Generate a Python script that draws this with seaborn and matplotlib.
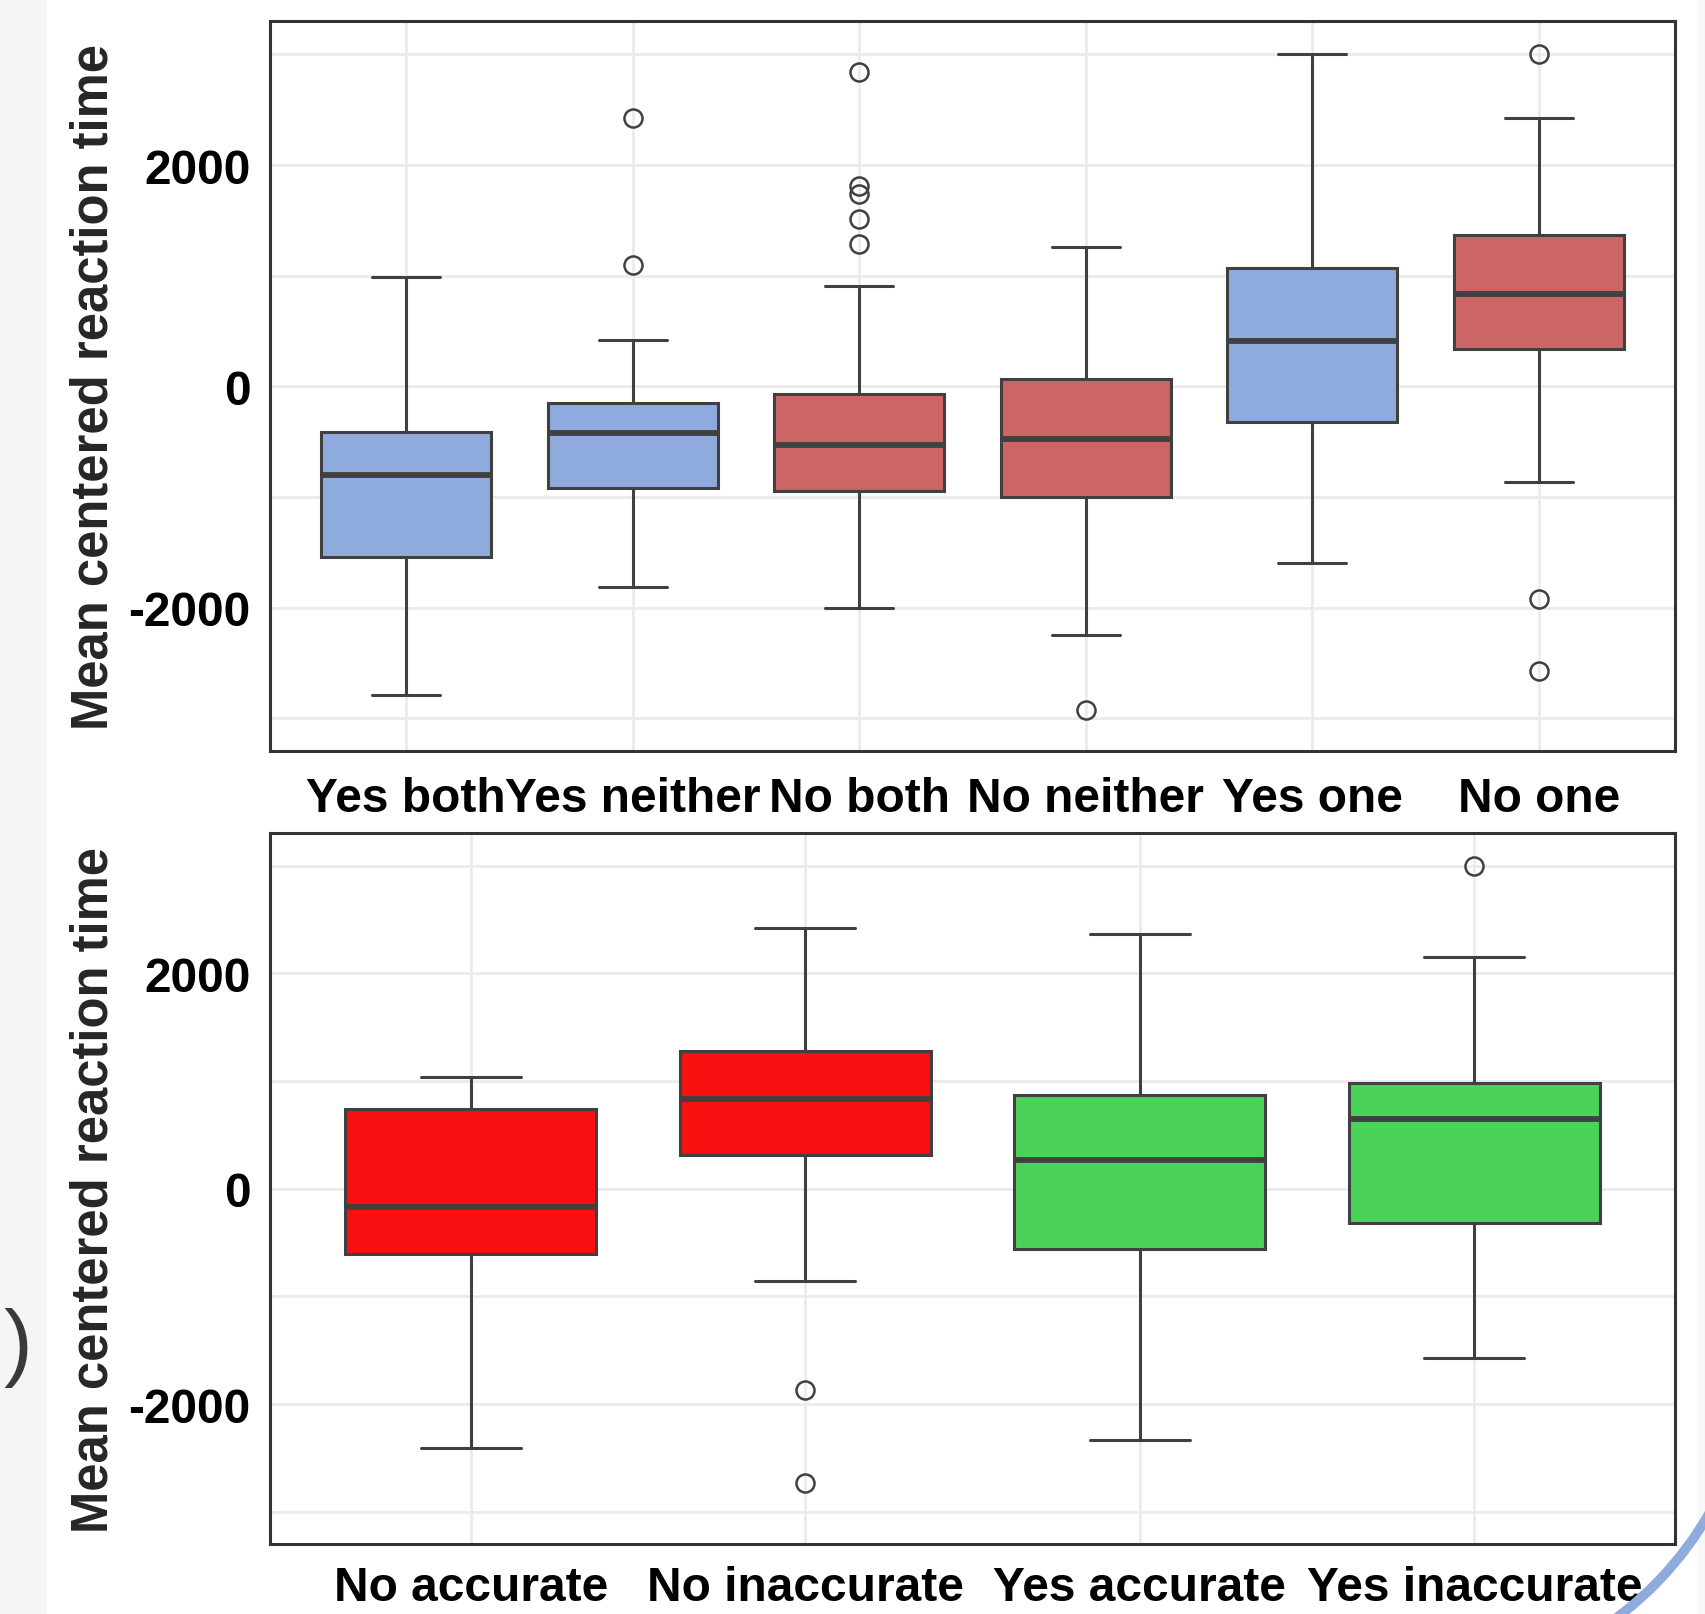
import numpy as np
import pandas as pd
import matplotlib
matplotlib.use("Agg")
import matplotlib.pyplot as plt
import seaborn as sns
from matplotlib.patches import Rectangle, Arc

# five-number summaries (and outliers)
top_groups = ['Yes both', 'Yes neither', 'No both', 'No neither', 'Yes one', 'No one']
top_low = [-2795, -1818, -2005, -2251, -1601, -862]
top_q1 = [-1543, -921, -951, -1000, -321, 337]
top_median = [-804, -419, -527, -478, 406, 838]
top_q3 = [-410, -153, -74, 63, 1071, 1366]
top_high = [990, 418, 910, 1255, 3000, 2429]
top_outliers = [[], [2429, 1098], [2841, 1807, 1738, 1511, 1285], [-2931], [],
                [3000, -1927, -2576]]
top_colors = ['#8FAADC', '#8FAADC', '#CC6666', '#CC6666', '#8FAADC', '#CC6666']

bottom_groups = ['No accurate', 'No inaccurate', 'Yes accurate', 'Yes inaccurate']
bottom_low = [-2405, -861, -2331, -1569]
bottom_q1 = [-610, 309, -564, -316]
bottom_median = [-171, 836, 263, 643]
bottom_q3 = [743, 1278, 873, 978]
bottom_high = [1040, 2423, 2368, 2154]
bottom_outliers = [[], [-1866, -2736], [], [2993]]
bottom_colors = ['#F81010', '#F81010', '#4BD258', '#4BD258']

W, H = 1705, 1615


def rebuild(groups, low, q1, med, q3, high, outliers):
    """Turn each summary back into a sample whose percentiles land on the read values"""
    rows = []
    for i, g in enumerate(groups):
        # quartile values repeated so np.percentile hits them exactly
        vals = [low[i], high[i]] + outliers[i] + [q1[i]] * 40 + [med[i]] * 40 + [q3[i]] * 40
        rows += [(g, v) for v in vals]
    return pd.DataFrame(rows, columns=['group', 'rt'])


def draw_panel(ax, df, groups, colors, xpad):
    sns.boxplot(data=df, x='group', y='rt', hue='group', order=groups, hue_order=groups,
                palette=colors, saturation=1, width=0.75, linecolor='#404040',
                linewidth=2.2, fliersize=13, flierprops={'markeredgewidth': 1.8},
                medianprops={'linewidth': 4.2}, capwidths=0.3, legend=False, ax=ax)

    ax.set_xlim(-0.6, len(groups) - 0.4)
    ax.set_ylim(-3300, 3300)
    ax.set_yticks([-2000, 0, 2000])
    ax.set_yticks([-3000, -1000, 1000, 3000], minor=True)
    ax.set_axisbelow(True)
    ax.grid(True, which='both', axis='y', color='#EBEBEB', linewidth=2)
    ax.grid(True, which='major', axis='x', color='#EBEBEB', linewidth=2)
    for side in ['left', 'right', 'top', 'bottom']:
        ax.spines[side].set_visible(True)
        ax.spines[side].set_color('#333333')
        ax.spines[side].set_linewidth(2.2)
    ax.tick_params(which='major', direction='out', length=8, width=2, color='#333333',
                   labelsize=34.5, labelcolor='black')
    ax.tick_params(axis='x', pad=xpad)
    ax.tick_params(axis='y', pad=6)
    ax.tick_params(which='minor', length=0)
    ax.set_xlabel('')
    ax.set_ylabel('Mean centered reaction time', fontsize=36.5, fontweight='bold')
    ax.yaxis.set_label_coords(-0.108, 0.5)


sns.set_style('white')
plt.rcParams['font.family'] = ['Liberation Sans', 'DejaVu Sans']
plt.rcParams['font.weight'] = 'bold'
plt.rcParams['axes.unicode_minus'] = False

fig = plt.figure(figsize=(W / 100, H / 100), dpi=100)
fig.patch.set_facecolor('white')

ax_top = fig.add_axes([270 / W, 1 - 752.3 / H, 1405 / W, 730 / H])
ax_bot = fig.add_axes([270 / W, 1 - 1545 / H, 1405 / W, 710.7 / H])

draw_panel(ax_top, rebuild(top_groups, top_low, top_q1, top_median, top_q3, top_high,
                           top_outliers), top_groups, top_colors, 10)
draw_panel(ax_bot, rebuild(bottom_groups, bottom_low, bottom_q1, bottom_median, bottom_q3,
                           bottom_high, bottom_outliers), bottom_groups, bottom_colors, 7)

# slide background bits around the chart
fig.add_artist(Rectangle((0, 0), 47 / W, 1, transform=fig.transFigure,
                         facecolor='#F5F5F5', edgecolor='none', zorder=-1))
fig.add_artist(Rectangle((1698 / W, 0), 7 / W, 1, transform=fig.transFigure,
                         facecolor='#F7F7F7', edgecolor='none', zorder=-1))
fig.text(3 / W, 1 - 1348 / H, ')', fontsize=62, fontweight='normal', color='#3A3A3A',
         ha='left', va='center')
fig.add_artist(Arc((1408.5 / W, 1 - 1340.8 / H), 2 * 347.3 / W, 2 * 347.3 / H,
                   theta1=-75, theta2=-15, transform=fig.transFigure,
                   color='#8FAADC', linewidth=7, zorder=5))

fig.savefig('out.png', dpi=100)
